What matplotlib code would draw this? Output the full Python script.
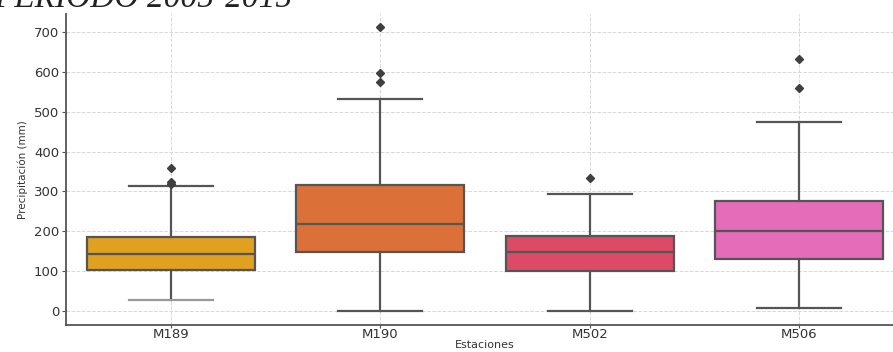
import matplotlib
matplotlib.use("Agg")
import matplotlib.pyplot as plt

# estaciones y estadisticos (mm)
estaciones = ["M189", "M190", "M502", "M506"]
q1 = [103, 149, 101, 130]
mediana = [143, 219, 147, 202]
q3 = [185, 316, 188, 275]
bigote_inf = [27, 0, 0, 7]
bigote_sup = [313, 532, 293, 474]
atipicos = [
    [358, 324, 319],
    [712, 597, 575],
    [334],
    [631, 560],
]
colores = ["#E0A020", "#DB7039", "#DC4A65", "#E46CB8"]

stats = []
for i, est in enumerate(estaciones):
    stats.append({
        "label": est,
        "q1": q1[i], "med": mediana[i], "q3": q3[i],
        "whislo": bigote_inf[i], "whishi": bigote_sup[i],
        "fliers": atipicos[i],
    })

fig = plt.figure(figsize=(8.93, 3.52), dpi=100)
ax = fig.add_axes([0.0739, 0.0767, 0.9384, 0.8835])

linea = "#555555"
bp = ax.bxp(stats, positions=range(len(estaciones)), widths=0.8,
            patch_artist=True,
            boxprops=dict(edgecolor=linea, linewidth=1.6),
            medianprops=dict(color=linea, linewidth=1.6),
            whiskerprops=dict(color=linea, linewidth=1.6),
            capprops=dict(color=linea, linewidth=1.6),
            flierprops=dict(marker="D", markersize=4.5, markerfacecolor="#3f3f3f",
                            markeredgecolor="#3f3f3f"),
            capwidths=0.4)
for patch, c in zip(bp["boxes"], colores):
    patch.set_facecolor(c)
bp["caps"][0].set_color("#999999")

ax.set_xlim(-0.5, 3.5)
ax.set_ylim(-35, 745)
ax.set_yticks(range(0, 701, 100))
ax.set_axisbelow(True)
ax.grid(True, linestyle="--", color="#d8d8d8", linewidth=0.7)

for s in ["top", "right"]:
    ax.spines[s].set_visible(False)
for s in ["left", "bottom"]:
    ax.spines[s].set_color("#555555")
    ax.spines[s].set_linewidth(1.3)
ax.tick_params(colors="#555555", labelcolor="#333333", labelsize=9.5,
               length=3, width=0.8, pad=2)
ax.tick_params(axis="x", length=2, pad=0.5)

ax.set_xlabel("Estaciones", fontsize=8, color="#333333")
ax.xaxis.set_label_coords(0.5, -0.047)
ax.set_ylabel("Precipitación (mm)", fontsize=7.5, color="#333333", labelpad=4)

# titulo recortado en la parte superior
fig.text(-0.006, 0.979, "PERIODO 2005-2015", fontsize=24, style="italic",
         family=["Liberation Serif", "DejaVu Serif"], color="#222222",
         va="baseline", ha="left")

fig.savefig("out.png", dpi=100)
